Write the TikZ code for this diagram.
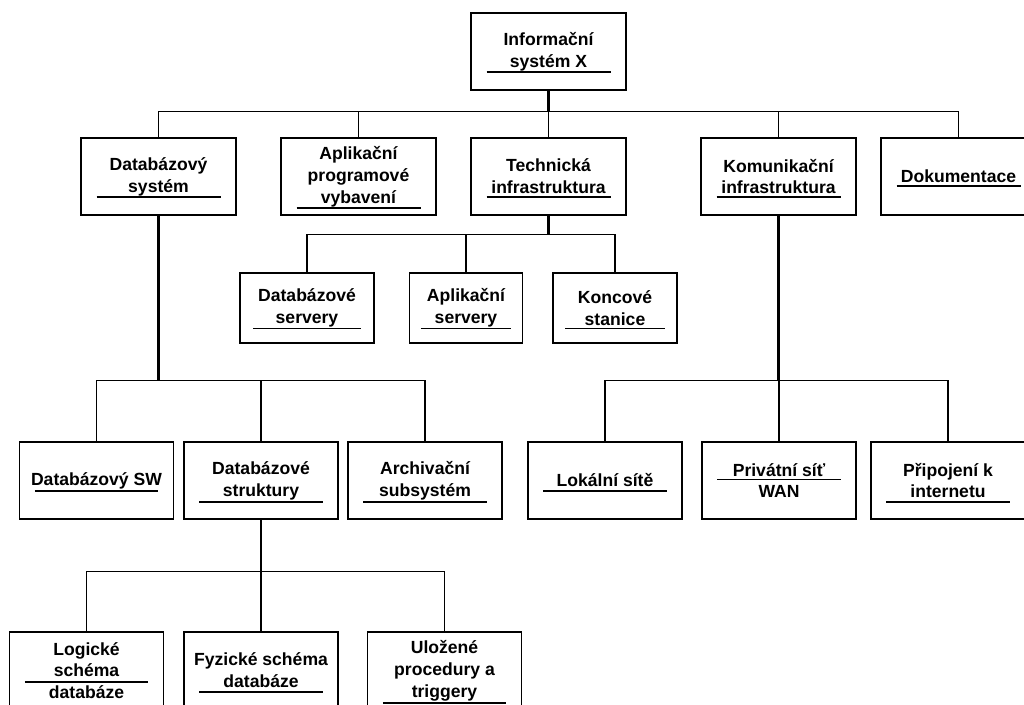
\documentclass[tikz,border=0pt]{standalone}
\usepackage{fontspec}
\setmainfont{Liberation Sans}
\usepackage{tikz}

\begin{document}
\begin{tikzpicture}[x=0.025cm,y=-0.025cm,
        box/.style={draw,line width=0.9pt,minimum width=3.875cm,minimum height=1.925cm,
            align=center,inner sep=2pt,font=\bfseries\fontsize{12.5}{15.5}\selectfont},
        stem/.style={line width=1.6pt},
        branch/.style={line width=0.8pt},
        uline/.style={line width=0.9pt}]
    \useasboundingbox (0,0) rectangle (1024,704);
    \clip (0,0) rectangle (1024,704);
    % level 0
    \node[box] (info) at (548.5,51.5) {Informační\\systém X};
    % level 1
    \node[box] (dbsys) at (158.5,176.5) {Databázový\\systém};
    \node[box] (aplik) at (358.5,176.5) {Aplikační\\programové\\vybavení};
    \node[box] (tech) at (548.5,176.5) {Technická\\infrastruktura};
    \node[box] (komun) at (778.5,176.5) {Komunikační\\infrastruktura};
    \node[box] (dokum) at (958.5,176.5) {Dokumentace};
    % technicka infrastruktura
    \node[box,minimum width=3.35cm,minimum height=1.75cm] (dbserv) at (307,308) {Databázové\\servery};
    \node[box,minimum width=2.825cm,minimum height=1.75cm] (apserv) at (466,308) {Aplikační\\servery};
    \node[box,minimum width=3.1cm,minimum height=1.75cm] (konc) at (615,308) {Koncové\\stanice};
    % databazovy system
    \node[box,minimum width=3.85cm] (dbsw) at (96.5,480.5) {Databázový SW};
    \node[box,minimum width=3.85cm] (dbstr) at (261,480.5) {Databázové\\struktury};
    \node[box,minimum width=3.85cm] (archiv) at (425,480.5) {Archivační\\subsystém};
    % komunikacni infrastruktura
    \node[box,minimum width=3.85cm] (lokal) at (605,480.5) {Lokální sítě};
    \node[box,minimum width=3.85cm] (privat) at (779,480.5) {Privátní síť\\WAN};
    \node[box,minimum width=3.85cm] (pripoj) at (948,480.5) {Připojení k\\internetu};
    % databazove struktury
    \node[box,minimum width=3.85cm] (logic) at (86.5,670.5) {Logické\\schéma\\databáze};
    \node[box,minimum width=3.85cm] (fyz) at (261,670.5) {Fyzické schéma\\databáze};
    \node[box,minimum width=3.85cm] (uloz) at (444.5,670.5) {Uložené\\procedury a\\triggery};

    % underlines
    \draw[uline] (info.center) ++(-62,20.5) -- ++(124,0);
    \draw[uline] (dbsys.center) ++(-62,20.5) -- ++(124,0);
    \draw[uline] (aplik.center) ++(-62,31.5) -- ++(124,0);
    \draw[uline] (tech.center) ++(-62,20.5) -- ++(124,0);
    \draw[uline] (komun.center) ++(-62,20.5) -- ++(124,0);
    \draw[uline] (dokum.center) ++(-62,9.5) -- ++(124,0);
    \draw[uline] (dbserv.center) ++(-53.6,20.5) -- ++(107.2,0);
    \draw[uline] (apserv.center) ++(-45.2,20.5) -- ++(90.4,0);
    \draw[uline] (konc.center) ++(-49.6,20.5) -- ++(99.2,0);
    \draw[uline] (dbsw.center) ++(-61.6,10.5) -- ++(123.2,0);
    \draw[uline] (dbstr.center) ++(-61.6,21.5) -- ++(123.2,0);
    \draw[uline] (archiv.center) ++(-61.6,21.5) -- ++(123.2,0);
    \draw[uline] (lokal.center) ++(-61.6,10.5) -- ++(123.2,0);
    \draw[uline] (privat.center) ++(-61.6,-1) -- ++(123.2,0);
    \draw[uline] (pripoj.center) ++(-61.6,21.5) -- ++(123.2,0);
    \draw[uline] (logic.center) ++(-61.6,11.5) -- ++(123.2,0);
    \draw[uline] (fyz.center) ++(-61.6,21.5) -- ++(123.2,0);
    \draw[uline] (uloz.center) ++(-61.6,32.5) -- ++(123.2,0);

    % connectors
    \coordinate (b0) at ([yshift=-0.525cm]info.south);
    \draw[branch] (b0) -| (dbsys.north);
    \draw[branch] (b0) -| (aplik.north);
    \draw[branch] (b0) -| (tech.north);
    \draw[branch] (b0) -| (komun.north);
    \draw[branch] (b0) -| (dokum.north);
    \draw[stem] (info.south) -- (b0);

    \coordinate (b1) at ([yshift=-0.475cm]tech.south);
    \draw[branch] (b1) -| (dbserv.north);
    \draw[branch] (b1) -| (apserv.north);
    \draw[branch] (b1) -| (konc.north);
    \draw[stem] (tech.south) -- (b1);

    \coordinate (b2) at ([yshift=-4.125cm]dbsys.south);
    \draw[branch] (b2) -| (dbsw.north);
    \draw[branch] (b2) -| (dbstr.north);
    \draw[branch] (b2) -| (archiv.north);
    \draw[stem] (dbsys.south) -- (b2);

    \coordinate (b3) at ([yshift=-4.125cm]komun.south);
    \draw[branch] (b3) -| (lokal.north);
    \draw[branch] (b3) -| (privat.north);
    \draw[branch] (b3) -| (pripoj.north);
    \draw[stem] (komun.south) -- (b3);

    \coordinate (b4) at ([yshift=-1.3cm]dbstr.south);
    \draw[branch] (b4) -| (logic.north);
    \draw[branch] (b4) -| (fyz.north);
    \draw[branch] (b4) -| (uloz.north);
    \draw[stem] (dbstr.south) -- (b4);
\end{tikzpicture}
\end{document}
